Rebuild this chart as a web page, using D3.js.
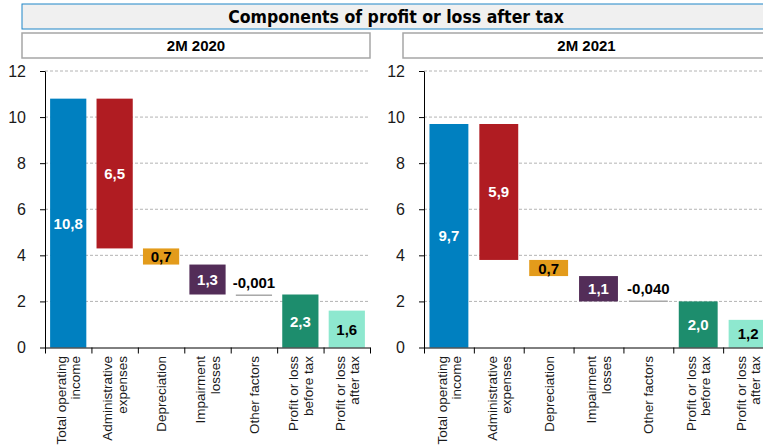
<!doctype html>
<html>
  <head>
    <meta charset="utf-8">
    <script src="https://cdnjs.cloudflare.com/ajax/libs/d3/7.8.5/d3.min.js"></script>
    <style>
      body { margin: 0; background: #fff; }
      svg { display: block; font-family: "Liberation Sans", Arial, sans-serif; }
    </style>
  </head>
  <body>
    <svg></svg>
    <script>
      var width = 763,
          height = 447;

      // data
      var title = "Components of profit or loss after tax";
      var periods = ["2M 2020", "2M 2021"];
      var categories = [
        ["Total operating", "income"],
        ["Administrative", "expenses"],
        ["Depreciation"],
        ["Impairment", "losses"],
        ["Other factors"],
        ["Profit or loss", "before tax"],
        ["Profit or loss", "after tax"]
      ];
      // "total" bars start at 0, "step" bars hang from the running level
      var kinds = ["total", "step", "step", "step", "step", "total", "total"];
      var values2020 = [10.8, 6.5, 0.7, 1.3, -0.001, 2.3, 1.6];
      var values2021 = [9.7, 5.9, 0.7, 1.1, -0.040, 2.0, 1.2];
      var labels2020 = ["10,8", "6,5", "0,7", "1,3", "-0,001", "2,3", "1,6"];
      var labels2021 = ["9,7", "5,9", "0,7", "1,1", "-0,040", "2,0", "1,2"];
      var yTicks = [0, 2, 4, 6, 8, 10, 12];

      var colors = ["#0080c0", "#b01c22", "#e39b1b", "#532d58", "#a8a8a8", "#1d8d6d", "#8ee8cf"];
      var labelColors = ["#fff", "#fff", "#000", "#fff", "#000", "#fff", "#000"];

      var svg = d3.select("svg").attr("width", width).attr("height", height);

      // title bar
      svg.append("rect")
        .attr("x", 22).attr("y", 4).attr("width", 748).attr("height", 25)
        .style("fill", "#f0f0f0").style("stroke", "#1f86c8").style("stroke-width", 1);
      svg.append("text")
        .attr("x", 396).attr("y", 23)
        .attr("text-anchor", "middle")
        .style("font-family", "'DejaVu Sans Condensed', 'DejaVu Sans', sans-serif")
        .style("font-weight", "bold").style("font-size", "17.5px")
        .text(title);

      var panels = [
        {period: periods[0], values: values2020, labels: labels2020, box: [22, 370], x0: 45, x1: 370},
        {period: periods[1], values: values2021, labels: labels2021, box: [403, 770], x0: 424, x1: 773}
      ];

      var y = d3.scaleLinear().domain([0, 12]).range([347.5, 71]);

      panels.forEach(function(p) {
        var g = svg.append("g");

        // period box
        g.append("rect")
          .attr("x", p.box[0]).attr("y", 33).attr("width", p.box[1] - p.box[0]).attr("height", 25)
          .style("fill", "#fff").style("stroke", "#a6a6a6").style("stroke-width", 1.5);
        g.append("text")
          .attr("x", (p.box[0] + p.box[1]) / 2).attr("y", 51)
          .attr("text-anchor", "middle")
          .style("font-weight", "bold").style("font-size", "15px")
          .text(p.period);

        var x = d3.scaleBand()
          .domain(d3.range(categories.length))
          .range([p.x0, p.x1])
          .paddingInner(0.22).paddingOuter(0.11);
        var xEdge = d3.scaleLinear().domain([0, categories.length]).range([p.x0, p.x1]);

        // gridlines
        g.selectAll(".grid").data(yTicks.filter(function(d) { return d > 0; }))
          .enter().append("line")
            .attr("x1", p.x0).attr("x2", p.x1)
            .attr("y1", function(d) { return y(d); }).attr("y2", function(d) { return y(d); })
            .style("stroke", "#b4b4b4").style("stroke-width", 1)
            .style("stroke-dasharray", "3,2");

        // waterfall levels
        var level = 0;
        var bars = p.values.map(function(v, i) {
          var lo, hi;
          if (kinds[i] === "total") { lo = 0; hi = v; level = v; }
          else { hi = Math.max(level, level - v); lo = Math.min(level, level - v); level = level - v; }
          return {i: i, v: v, lo: lo, hi: hi};
        });

        g.selectAll(".bar").data(bars)
          .enter().append("rect")
            .attr("x", function(d) { return x(d.i); })
            .attr("width", x.bandwidth())
            .attr("y", function(d) { return y(d.hi); })
            .attr("height", function(d) { return Math.max(1.5, y(d.lo) - y(d.hi)); })
            .style("fill", function(d) { return colors[d.i]; });

        // value labels
        g.selectAll(".val").data(bars)
          .enter().append("text")
            .attr("x", function(d) { return x(d.i) + x.bandwidth() / 2; })
            .attr("y", function(d) {
              var h = y(d.lo) - y(d.hi);
              return h < 4 ? y(d.hi) - 6 : (y(d.lo) + y(d.hi)) / 2 + 5.5;
            })
            .attr("text-anchor", "middle")
            .style("font-weight", "bold").style("font-size", "15px")
            .style("fill", function(d) { return labelColors[d.i]; })
            .text(function(d) { return p.labels[d.i]; });

        // y axis
        var yAxis = g.append("g")
          .attr("transform", "translate(" + p.x0 + ",0)")
          .call(d3.axisLeft(y).tickValues(yTicks).tickSize(5).tickSizeOuter(0).tickPadding(14));
        yAxis.selectAll("text").style("font-family", "'Liberation Sans', Arial, sans-serif")
          .style("font-size", "16px").style("fill", "#1a1a1a");
        yAxis.selectAll("line, path").style("stroke", "#000");

        // x axis with ticks at category edges
        var xAxis = g.append("g")
          .attr("transform", "translate(0," + y(0) + ")")
          .call(d3.axisBottom(xEdge).tickValues(d3.range(categories.length + 1)).tickSize(6).tickSizeOuter(0).tickFormat(""));
        xAxis.selectAll("line, path").style("stroke", "#000");

        // category labels
        var lh = 14.5;
        g.selectAll(".cat").data(categories)
          .enter().append("text")
            .attr("transform", function(d, i) {
              return "translate(" + (x(i) + x.bandwidth() / 2) + "," + 356 + ") rotate(-90)";
            })
            .attr("text-anchor", "end")
            .style("font-size", "13.5px").style("fill", "#1a1a1a")
            .each(function(d) {
              var t = d3.select(this);
              d.forEach(function(line, k) {
                t.append("tspan")
                  .attr("x", 0)
                  .attr("y", 5 - (d.length - 1) * lh / 2 + k * lh)
                  .text(line);
              });
            });
      });
    </script>
  </body>
</html>
